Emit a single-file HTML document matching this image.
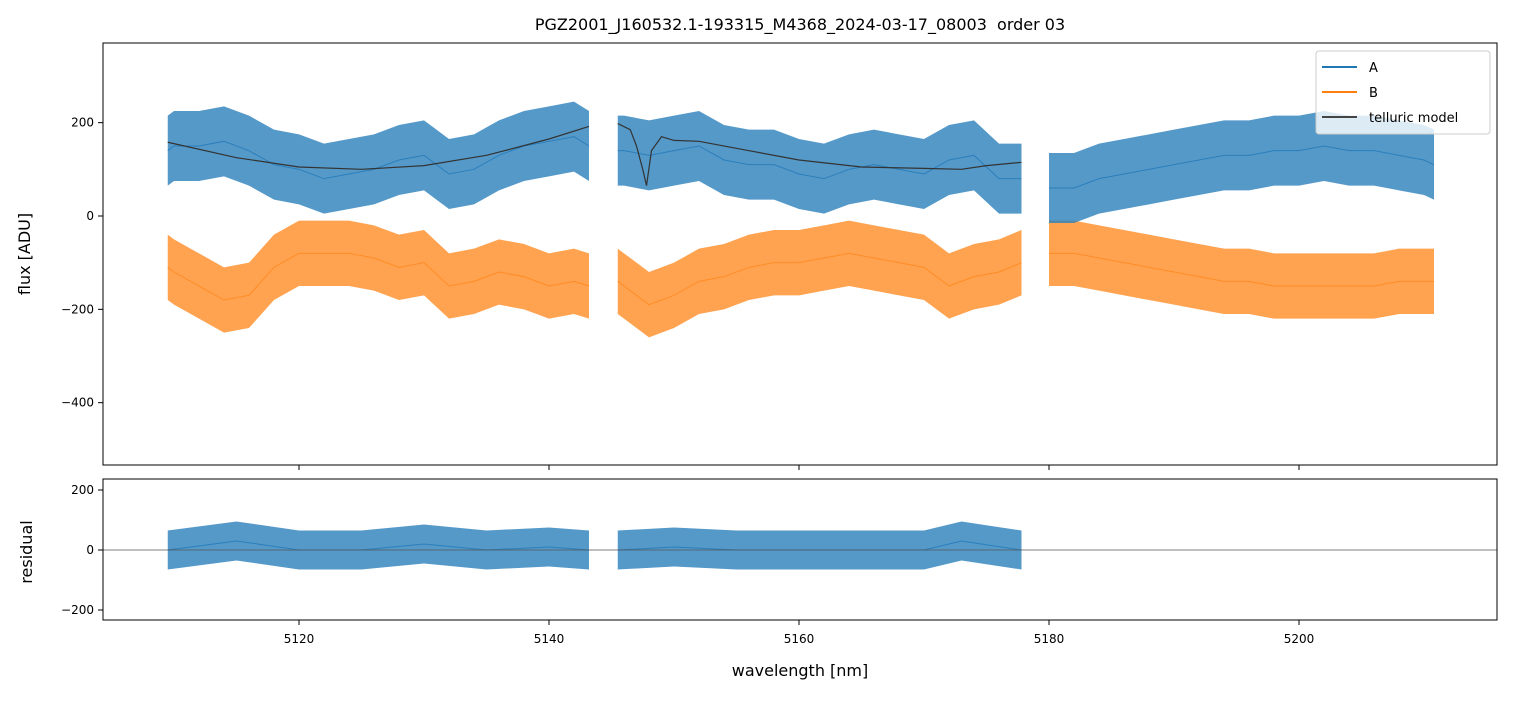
<!DOCTYPE html>
<html><head><meta charset="utf-8"><style>
body{margin:0;background:#fff;font-family:"Liberation Sans","DejaVu Sans",sans-serif}
svg text{font-family:"DejaVu Sans","Liberation Sans",sans-serif}
</style></head><body>
<svg id="c" width="1513" height="696" xmlns="http://www.w3.org/2000/svg">
<text x="800" y="30" text-anchor="middle" font-size="16" style="white-space:pre">PGZ2001_J160532.1-193315_M4368_2024-03-17_08003  order 03</text>
<g id="gtop"></g>
<g id="gbot"></g>
<rect x="103" y="43" width="1394" height="422" fill="none" stroke="#000"/>
<rect x="103" y="479" width="1394" height="141" fill="none" stroke="#000"/>
<text x="30" y="254" transform="rotate(-90 30 254)" text-anchor="middle" font-size="16">flux [ADU]</text>
<text x="32" y="552" transform="rotate(-90 32 552)" text-anchor="middle" font-size="16">residual</text>
<text x="800" y="676" text-anchor="middle" font-size="16">wavelength [nm]</text>
<g>
<rect x="1316" y="51" width="174" height="83" rx="3" fill="#fff" fill-opacity="0.8" stroke="#ccc"/>
<line x1="1322" y1="67" x2="1357" y2="67" stroke="#1f77b4" stroke-width="2"/>
<text x="1369" y="72" font-size="13">A</text>
<line x1="1322" y1="92" x2="1357" y2="92" stroke="#ff7f0e" stroke-width="2"/>
<text x="1369" y="97" font-size="13">B</text>
<line x1="1322" y1="117" x2="1357" y2="117" stroke="#444" stroke-width="2"/>
<text x="1369" y="122" font-size="13">telluric model</text>
</g>
</svg>
<script>
const xTicks=[5120,5140,5160,5180,5200];
const yTicksTop=[200,0,-200,-400];
const yTicksBot=[200,0,-200];
const segWl=[[5109.5,5110,5112,5114,5116,5118,5120,5122,5124,5126,5128,5130,5132,5134,5136,5138,5140,5142,5143.2],
[5145.5,5146,5148,5150,5152,5154,5156,5158,5160,5162,5164,5166,5168,5170,5172,5174,5176,5177.8],
[5180,5182,5184,5186,5188,5190,5192,5194,5196,5198,5200,5202,5204,5206,5208,5210,5210.8]];
const seriesA=[[140,150,150,160,140,110,100,80,90,100,120,130,90,100,130,150,160,170,150],
[140,140,130,140,150,120,110,110,90,80,100,110,100,90,120,130,80,80],
[60,60,80,90,100,110,120,130,130,140,140,150,140,140,130,120,110,110]];
const seriesB=[[-110,-120,-150,-180,-170,-110,-80,-80,-80,-90,-110,-100,-150,-140,-120,-130,-150,-140,-150],
[-140,-150,-190,-170,-140,-130,-110,-100,-100,-90,-80,-90,-100,-110,-150,-130,-120,-100],
[-80,-80,-90,-100,-110,-120,-130,-140,-140,-150,-150,-150,-150,-150,-140,-140,-140]];
const modelWl=[[5109.5,5115,5120,5125,5130,5135,5140,5143.2],
[5145.5,5146.5,5147,5147.5,5147.8,5148.2,5149,5150,5152,5156,5160,5165,5170,5173,5175,5177.8]];
const modelVals=[[158,125,105,100,108,130,165,192],
[198,185,150,100,65,140,170,162,160,140,120,105,102,100,108,115]];
const residWl=[[5109.5,5115,5120,5125,5130,5135,5140,5143.2],[5145.5,5150,5155,5160,5165,5170,5173,5177.8]];
const residVals=[[0,30,0,0,20,0,10,0],[0,10,0,0,0,0,30,0]];
const spreadA=75, spreadB=70, spreadR=65;

const NS="http://www.w3.org/2000/svg";
const X=w=>103+(w-5104.32)*12.5;
const YT=v=>216-v*0.4667;
const YB=v=>550-v*0.3;
function el(tag,attrs,parent){const e=document.createElementNS(NS,tag);for(const k in attrs)e.setAttribute(k,attrs[k]);parent.appendChild(e);return e;}
const gTop=document.getElementById('gtop'),gBot=document.getElementById('gbot');
function band(wl,vals,sp,Y,col,par,name){
  const up=wl.map((w,i)=>X(w)+','+Y(vals[i]+sp)).join(' ');
  const dn=wl.map((w,i)=>X(w)+','+Y(vals[i]-sp)).reverse().join(' ');
  const p=el('polygon',{points:up+' '+dn,fill:col,'fill-opacity':0.8},par);
  
  
  const l=el('polyline',{points:wl.map((w,i)=>X(w)+','+Y(vals[i])).join(' '),fill:'none',stroke:col,'stroke-width':1},par);
  
  
}
segWl.forEach((wl,s)=>{band(wl,seriesB[s],spreadB,YT,'#ff8c25',gTop,'series-b-seg'+s);});
segWl.forEach((wl,s)=>{band(wl,seriesA[s],spreadA,YT,'#2b7fbb',gTop,'series-a-seg'+s);});
modelWl.forEach((wl,s)=>{
  const l=el('polyline',{points:wl.map((w,i)=>X(w)+','+YT(modelVals[s][i])).join(' '),fill:'none',stroke:'#333','stroke-width':1.2},gTop);
  
  
});
residWl.forEach((wl,s)=>{band(wl,residVals[s],spreadR,YB,'#2b7fbb',gBot,'residual-seg'+s);});
const z=el('line',{x1:103,x2:1497,y1:YB(0),y2:YB(0),stroke:'#555','stroke-width':0.8},gBot);


const svg=document.getElementById('c');
xTicks.forEach(t=>{
  [465,620].forEach(y=>{const tk=el('line',{x1:X(t),x2:X(t),y1:y,y2:y+5,stroke:'#000'},svg);
  
  });
  const tx=el('text',{x:X(t),y:643,'text-anchor':'middle','font-size':12},svg);tx.textContent=t;
  
  
});
yTicksTop.forEach(t=>{
  const tk=el('line',{x1:98,x2:103,y1:YT(t),y2:YT(t),stroke:'#000'},svg);
  
  
  const tx=el('text',{x:94,y:YT(t)+4,'text-anchor':'end','font-size':12},svg);tx.textContent=t<0?'\u2212'+(-t):t;
  
  
});
yTicksBot.forEach(t=>{
  const tk=el('line',{x1:98,x2:103,y1:YB(t),y2:YB(t),stroke:'#000'},svg);
  
  
  const tx=el('text',{x:94,y:YB(t)+4,'text-anchor':'end','font-size':12},svg);tx.textContent=t<0?'\u2212'+(-t):t;
  
  
});
</script>
</body></html>
